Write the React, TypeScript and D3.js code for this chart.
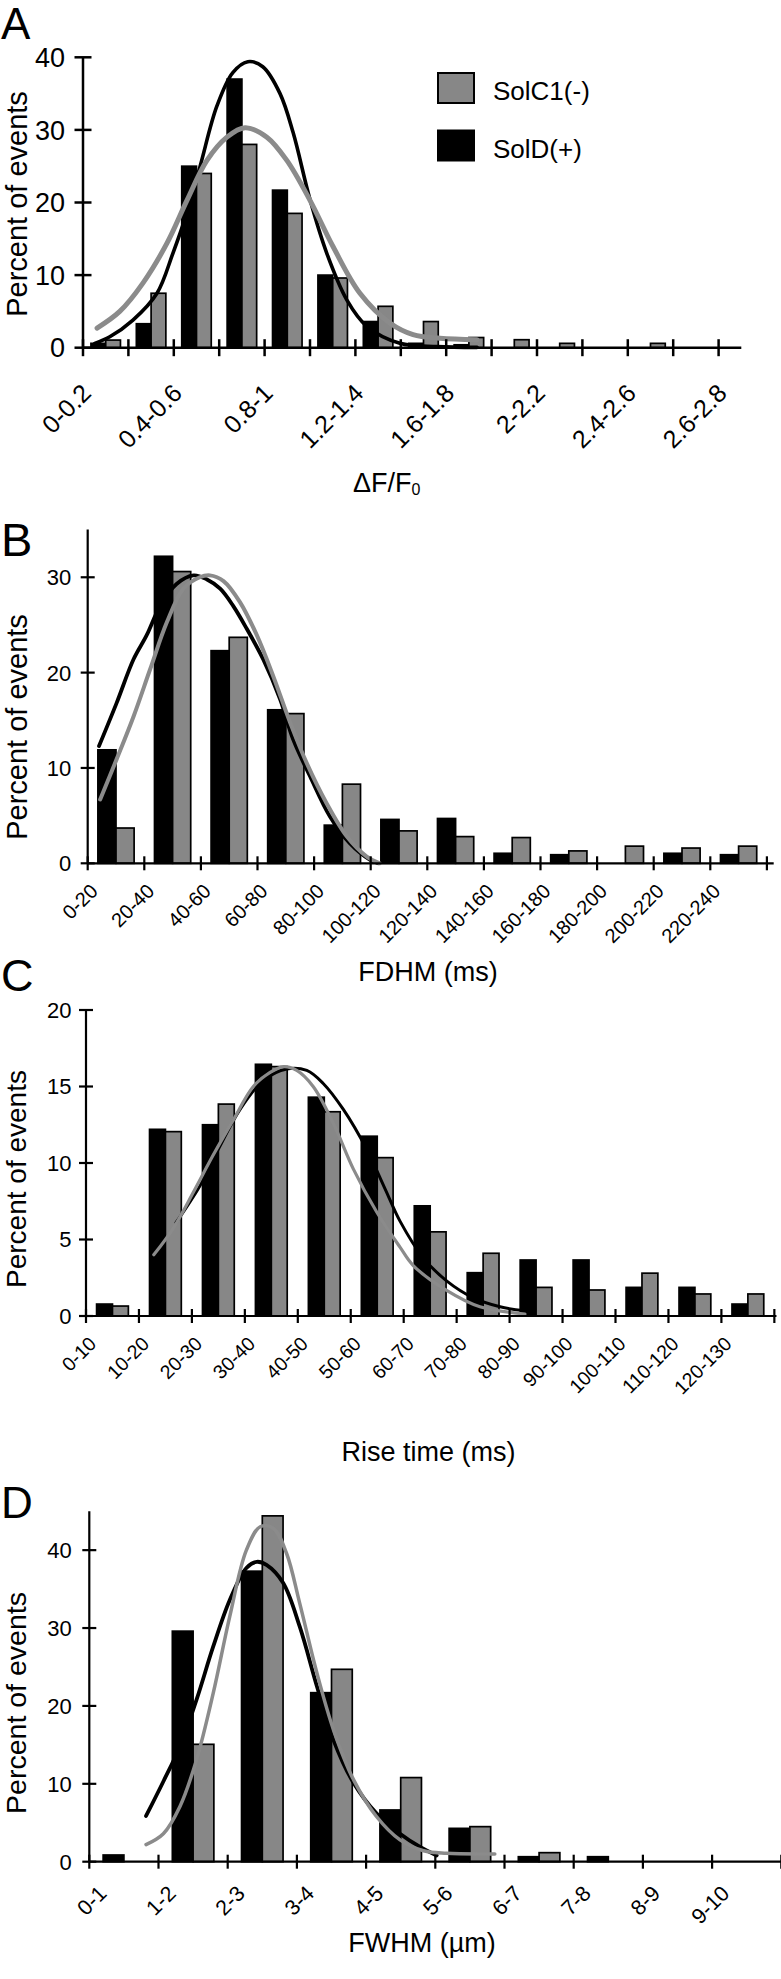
import React from "react";
import * as d3 from "d3";

// ---------------- DATA ----------------
const seriesNames = ["SolC1(-)", "SolD(+)"];

// Panel A : ΔF/F0
const labelsA = ["0-0.2", "", "0.4-0.6", "", "0.8-1", "", "1.2-1.4", "", "1.6-1.8", "", "2-2.2", "", "2.4-2.6", "", "2.6-2.8"];
const solD_A = [0.6, 3.3, 25, 37, 21.7, 10, 3.6, 0.6, 0.4, 0, 0, 0, 0, 0, 0];
const solC1_A = [1.05, 7.5, 24, 28, 18.5, 9.6, 5.7, 3.6, 1.4, 1.1, 0.6, 0, 0.6, 0, 0];
const fitD_A: [number, number][] = [
  [0.26, 0.6], [0.59, 1.5], [1.1, 3.8], [1.63, 7.5], [1.98, 13], [2.29, 18.6], [2.58, 25], [2.95, 33.3],
  [3.3, 37.9], [3.63, 39.4], [3.96, 38.7], [4.34, 35], [4.63, 29.6], [5.0, 20.4], [5.37, 13], [5.81, 6.6],
  [6.26, 2.9], [6.98, 0.6], [7.8, 0.15], [8.68, 0.05],
];
const fitC1_A: [number, number][] = [
  [0.31, 2.7], [0.81, 5.0], [1.32, 8.9], [1.85, 14.4], [2.29, 20.3], [2.73, 25.8], [3.17, 29], [3.57, 30.3],
  [4.05, 29], [4.49, 25.8], [5.0, 20.3], [5.51, 13.9], [6.1, 7.5], [6.76, 3.4], [7.27, 1.8], [7.86, 1.3], [8.68, 1.1],
];

// Panel B : FDHM (ms)
const labelsB = ["0-20", "20-40", "40-60", "60-80", "80-100", "100-120", "120-140", "140-160", "160-180", "180-200", "200-220", "220-240"];
const solD_B = [11.9, 32.2, 22.3, 16.1, 4.0, 4.6, 4.7, 1.05, 0.9, 0, 1.05, 0.9];
const solC1_B = [3.7, 30.6, 23.7, 15.7, 8.3, 3.4, 2.8, 2.7, 1.3, 1.8, 1.6, 1.8];
const fitD_B: [number, number][] = [
  [0.2, 12.3], [0.51, 16.8], [0.81, 21.4], [1.04, 23.9], [1.28, 27], [1.57, 29.3], [1.87, 30.2], [2.1, 29.8],
  [2.34, 28.8], [2.57, 27], [2.81, 24.6], [3.1, 21.4], [3.4, 17.2], [3.63, 13], [3.93, 9.1], [4.28, 4.9],
  [4.63, 2.1], [4.99, 0.35], [5.13, 0],
];
const fitC1_B: [number, number][] = [
  [0.22, 6.7], [0.51, 10.9], [0.81, 15.4], [1.1, 20.3], [1.4, 25.3], [1.69, 28.8], [1.98, 30.0], [2.16, 30.2],
  [2.4, 29.6], [2.69, 27.4], [2.99, 23.9], [3.28, 19.6], [3.58, 14.7], [3.87, 10.5], [4.22, 6.3], [4.58, 2.8],
  [4.93, 0.7], [5.16, 0],
];

// Panel C : Rise time (ms)
const labelsC = ["0-10", "10-20", "20-30", "30-40", "40-50", "50-60", "60-70", "70-80", "80-90", "90-100", "100-110", "110-120", "120-130"];
const solD_C = [0.78, 12.2, 12.5, 16.45, 14.3, 11.75, 7.2, 2.83, 3.66, 3.66, 1.87, 1.87, 0.78];
const solC1_C = [0.65, 12.05, 13.85, 16.3, 13.35, 10.35, 5.5, 4.1, 1.87, 1.7, 2.8, 1.44, 1.44];
const fitD_C: [number, number][] = [
  [1.7, 6.1], [2.15, 8.5], [2.53, 11.1], [2.91, 13.5], [3.35, 15.4], [3.79, 16.15], [4.17, 16.05], [4.48, 15.2],
  [4.86, 13.5], [5.3, 10.9], [5.65, 8.3], [5.93, 6.2], [6.37, 3.8], [6.81, 2.3], [7.31, 1.2], [7.82, 0.6], [8.29, 0.34],
];
const fitC1_C: [number, number][] = [
  [1.28, 4.0], [1.65, 5.75], [2.03, 8.1], [2.4, 10.5], [2.78, 12.8], [3.16, 15.0], [3.47, 15.9], [3.73, 16.3],
  [3.98, 16.05], [4.29, 15.0], [4.67, 12.6], [5.05, 9.6], [5.49, 6.8], [5.93, 4.5], [6.18, 3.3], [6.81, 1.67],
  [7.44, 0.6], [8.29, 0.13],
];

// Panel D : FWHM (µm)
const labelsD = ["0-1", "1-2", "2-3", "3-4", "4-5", "5-6", "6-7", "7-8", "8-9", "9-10"];
const solD_D = [0.86, 29.6, 37.3, 21.7, 6.64, 4.28, 0.64, 0.64, 0, 0];
const solC1_D = [0, 15.07, 44.4, 24.7, 10.8, 4.5, 1.16, 0, 0, 0];
const fitD_D: [number, number][] = [
  [0.82, 5.87], [1.07, 10.3], [1.31, 14.8], [1.55, 20.8], [1.79, 27.6], [2.03, 33.6], [2.27, 37.7], [2.42, 38.5],
  [2.56, 38.1], [2.8, 35.8], [3.04, 30.2], [3.29, 22.5], [3.53, 15.6], [3.82, 10.1], [4.15, 6.2], [4.49, 3.6],
  [4.78, 1.9], [5.02, 0.8],
];
const fitC1_D: [number, number][] = [
  [0.82, 2.2], [1.07, 3.6], [1.31, 7.1], [1.55, 13.1], [1.79, 21.6], [2.03, 31.5], [2.27, 40.0], [2.47, 43.0],
  [2.66, 42.8], [2.85, 39.6], [3.04, 33.2], [3.29, 24.2], [3.53, 16.9], [3.82, 10.5], [4.15, 5.8], [4.49, 2.8],
  [4.83, 1.4], [5.16, 1.07], [5.86, 1.0],
];

// ---------------- STYLE / LAYOUT ----------------
const FONT = "'Liberation Sans', Arial, Helvetica, sans-serif";
const GRAY_BAR = "#878787";
const GRAY_LINE = "#8b8b8b";

type Pt = [number, number];
interface Cfg {
  letter: string; letterY: number; letterSize: number;
  labels: string[]; black: number[]; gray: number[]; fitBlack: Pt[]; fitGray: Pt[];
  left: number; step: number; axisEndU: number; pairFrac: number;
  bottom: number; top: number; yMax: number; yTicks: number[];
  tickFont: number; yLabelGap: number;
  xLabelFont: number; xLabelDx: number; xLabelDy: number;
  yTitleX: number; yTitleY: number; yTitleFont: number;
  xTitle: string; xTitleX: number; xTitleY: number; xTitleAnchor: string; xTitleSub?: string;
  axisW: number; tickLen: number; blackLineW: number; grayLineW: number;
}

const panels: Cfg[] = [
  {
    letter: "A", letterY: 39, letterSize: 44,
    labels: labelsA, black: solD_A, gray: solC1_A, fitBlack: fitD_A, fitGray: fitC1_A,
    left: 83, step: 45.4, axisEndU: 14.5, pairFrac: 0.65,
    bottom: 347.7, top: 57.3, yMax: 40, yTicks: [0, 10, 20, 30, 40],
    tickFont: 27, yLabelGap: 18,
    xLabelFont: 25, xLabelDx: -13, xLabelDy: 47,
    yTitleX: 26.5, yTitleY: 204, yTitleFont: 29,
    xTitle: "ΔF/F", xTitleSub: "0", xTitleX: 353, xTitleY: 492, xTitleAnchor: "start",
    axisW: 2.5, tickLen: 8.5, blackLineW: 3.6, grayLineW: 5,
  },
  {
    letter: "B", letterY: 556, letterSize: 47,
    labels: labelsB, black: solD_B, gray: solC1_B, fitBlack: fitD_B, fitGray: fitC1_B,
    left: 87.7, step: 56.6, axisEndU: 12.12, pairFrac: 0.64,
    bottom: 863.3, top: 529.6, yMax: 35, yTicks: [0, 10, 20, 30],
    tickFont: 22, yLabelGap: 16.5,
    xLabelFont: 20, xLabelDx: -17, xLabelDy: 29,
    yTitleX: 26.5, yTitleY: 727, yTitleFont: 29,
    xTitle: "FDHM (ms)", xTitleX: 428, xTitleY: 981, xTitleAnchor: "middle",
    axisW: 2.2, tickLen: 7, blackLineW: 3.8, grayLineW: 4,
  },
  {
    letter: "C", letterY: 991, letterSize: 45,
    labels: labelsC, black: solD_C, gray: solC1_C, fitBlack: fitD_C, fitGray: fitC1_C,
    left: 86, step: 52.95, axisEndU: 13.04, pairFrac: 0.6,
    bottom: 1316, top: 1010, yMax: 20, yTicks: [0, 5, 10, 15, 20],
    tickFont: 22, yLabelGap: 14.5,
    xLabelFont: 19.5, xLabelDx: -15, xLabelDy: 29,
    yTitleX: 25.5, yTitleY: 1179, yTitleFont: 28,
    xTitle: "Rise time (ms)", xTitleX: 428.5, xTitleY: 1461, xTitleAnchor: "middle",
    axisW: 2.2, tickLen: 7, blackLineW: 3, grayLineW: 3.2,
  },
  {
    letter: "D", letterY: 1518, letterSize: 44,
    labels: labelsD, black: solD_D, gray: solC1_D, fitBlack: fitD_D, fitGray: fitC1_D,
    left: 89.3, step: 69.2, axisEndU: 10, pairFrac: 0.6,
    bottom: 1861.7, top: 1511.2, yMax: 45, yTicks: [0, 10, 20, 30, 40],
    tickFont: 22, yLabelGap: 17.5,
    xLabelFont: 21.5, xLabelDx: -16, xLabelDy: 33,
    yTitleX: 26, yTitleY: 1703, yTitleFont: 28.5,
    xTitle: "FWHM (µm)", xTitleX: 422, xTitleY: 1952, xTitleAnchor: "middle",
    axisW: 2.2, tickLen: 7, blackLineW: 3.8, grayLineW: 3.5,
  },
];

function Panel({ c }: { c: Cfg }) {
  const n = c.labels.length;
  const xLin = d3.scaleLinear().domain([0, n]).range([c.left, c.left + n * c.step]);
  const xBand = d3.scaleBand<number>().domain(d3.range(n)).range([c.left, c.left + n * c.step]).padding(0);
  const pad = 1 / c.pairFrac - 1;
  const xSub = d3.scaleBand<string>().domain(["D", "C"]).range([0, xBand.bandwidth()]).paddingInner(0).paddingOuter(pad);
  const y = d3.scaleLinear().domain([0, c.yMax]).range([c.bottom, c.top]);
  const line = d3.line<Pt>().x((d) => xLin(d[0])).y((d) => y(d[1])).curve(d3.curveCatmullRom.alpha(0.5));
  const axisEnd = xLin(c.axisEndU);
  const xTicks = d3.range(n + 1).filter((k) => xLin(k) <= axisEnd + 0.5);

  const bar = (v: number, i: number, key: string, fill: string) =>
    v > 0 ? (
      <rect key={key + i} x={(xBand(i) as number) + (xSub(key) as number)} y={y(v)} width={xSub.bandwidth()}
        height={y(0) - y(v)} fill={fill} stroke="#000" strokeWidth={1.7} />
    ) : null;

  return (
    <g>
      <text x={1} y={c.letterY} fontSize={c.letterSize} fontFamily={FONT}>{c.letter}</text>
      {/* bars */}
      {c.black.map((v, i) => bar(v, i, "D", "#000"))}
      {c.gray.map((v, i) => bar(v, i, "C", GRAY_BAR))}
      {/* fitted curves */}
      <path d={line(c.fitBlack) || ""} fill="none" stroke="#000" strokeWidth={c.blackLineW} strokeLinecap="round" strokeLinejoin="round" />
      <path d={line(c.fitGray) || ""} fill="none" stroke={GRAY_LINE} strokeWidth={c.grayLineW} strokeLinecap="round" strokeLinejoin="round" />
      {/* y axis */}
      <line x1={c.left} x2={c.left} y1={c.top} y2={c.bottom} stroke="#000" strokeWidth={c.axisW} />
      {c.yTicks.map((t) => (
        <g key={"yt" + t}>
          <line x1={c.left - c.tickLen} x2={c.left + c.tickLen} y1={y(t)} y2={y(t)} stroke="#000" strokeWidth={c.axisW} />
          <text x={c.left - c.yLabelGap} y={y(t)} dy="0.36em" textAnchor="end" fontSize={c.tickFont} fontFamily={FONT}>{t}</text>
        </g>
      ))}
      {/* x axis */}
      <line x1={c.left} x2={axisEnd} y1={c.bottom} y2={c.bottom} stroke="#000" strokeWidth={c.axisW} />
      {xTicks.map((k) => (
        <line key={"xt" + k} x1={xLin(k)} x2={xLin(k)} y1={c.bottom - c.tickLen} y2={c.bottom + c.tickLen} stroke="#000" strokeWidth={c.axisW} />
      ))}
      {c.labels.map((lab, i) =>
        lab ? (
          <text key={"xl" + i} textAnchor="end" fontSize={c.xLabelFont} fontFamily={FONT}
            transform={`translate(${(xBand(i) as number) + xBand.bandwidth() / 2 + c.xLabelDx},${c.bottom + c.xLabelDy}) rotate(-45)`}>
            {lab}
          </text>
        ) : null
      )}
      {/* axis titles */}
      <text transform={`translate(${c.yTitleX},${c.yTitleY}) rotate(-90)`} textAnchor="middle" fontSize={c.yTitleFont} fontFamily={FONT}>
        Percent of events
      </text>
      <text x={c.xTitleX} y={c.xTitleY} textAnchor={c.xTitleAnchor as any} fontSize={27} fontFamily={FONT}>
        {c.xTitle}
        {c.xTitleSub ? <tspan fontSize={16} dy={3}>{c.xTitleSub}</tspan> : null}
      </text>
    </g>
  );
}

function Legend() {
  const fills = [GRAY_BAR, "#000"];
  const yPos = d3.scalePoint<string>().domain(seriesNames).range([73, 130.5]);
  return (
    <g>
      {seriesNames.map((s, i) => (
        <g key={s}>
          <rect x={438} y={yPos(s) as number} width={36} height={30} fill={fills[i]} stroke="#000" strokeWidth={2} />
          <text x={493} y={(yPos(s) as number) + 27} fontSize={26} fontFamily={FONT}>{s}</text>
        </g>
      ))}
    </g>
  );
}

export default function App() {
  return (
    <svg width={781} height={1979} style={{ position: "absolute", left: 0, top: 0, display: "block", background: "#fff" }}>
      <rect x={0} y={0} width={781} height={1979} fill="#fff" />
      {panels.map((p) => (
        <Panel key={p.letter} c={p} />
      ))}
      <Legend />
    </svg>
  );
}
